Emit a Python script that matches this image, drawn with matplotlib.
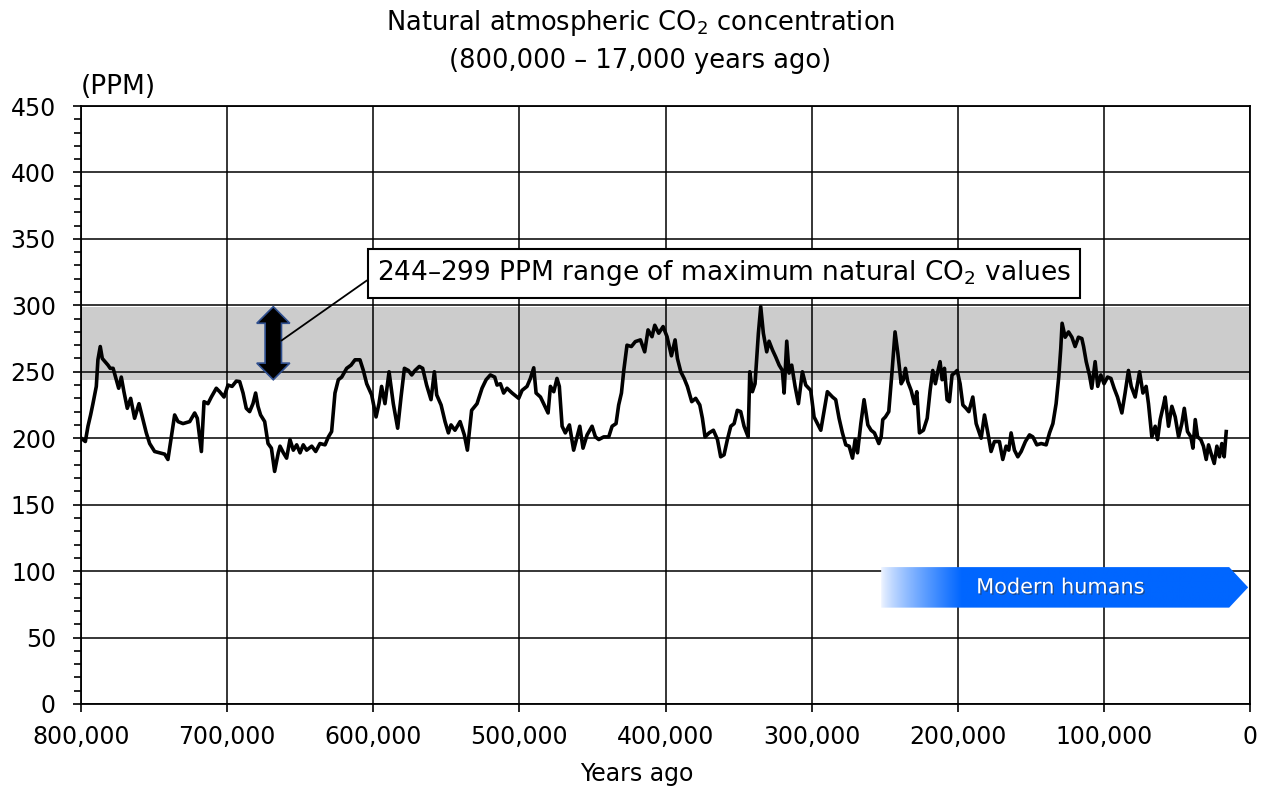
import numpy as np
import matplotlib
matplotlib.use("Agg")
import matplotlib.pyplot as plt
from matplotlib.patches import Polygon
from matplotlib.ticker import MultipleLocator, FuncFormatter
import matplotlib.patheffects as pe

# CO2 record (thousands of years ago, ppm)
kyr_ago = [
    799.8, 797.0, 795.2, 793.4, 791.8, 789.5, 788.4, 786.8, 785.4, 783.8,
    781.5, 780.0, 778.0, 775.8, 774.2, 772.4, 770.6, 768.3, 766.0, 763.3,
    760.3, 757.6, 755.3, 753.0, 749.6, 746.2, 742.7, 740.5, 738.2, 735.9,
    733.6, 730.2, 725.6, 722.2, 720.4, 717.6, 715.8, 713.1, 710.8, 707.4,
    705.1, 702.1, 699.4, 696.6, 693.7, 691.4, 689.1, 686.9, 684.6, 682.3,
    680.5, 678.9, 677.1, 674.3, 672.0, 669.7, 667.5,
    665.0, 663.8, 661.5, 659.3, 657.0, 654.7, 652.4, 650.1, 647.9, 645.6,
    642.1, 639.4, 636.5, 633.0, 630.7, 628.5, 626.2, 623.9, 621.6, 618.2,
    615.2, 612.5, 609.1, 606.8, 604.5, 601.1, 598.1, 596.1, 594.3, 592.0,
    589.2, 586.3, 583.3, 581.0, 578.7, 576.0, 573.7, 571.4, 568.5, 566.2,
    563.5, 560.5, 558.2, 556.6, 553.6, 550.9, 548.6, 546.8, 544.1, 540.6,
    537.7, 535.6, 532.7,
    529.0, 525.6, 522.8, 519.9, 516.9, 515.3, 513.0, 510.8, 508.5, 505.0,
    500.5, 498.2, 494.8, 492.5, 490.2, 488.6, 485.6, 483.4, 480.4, 478.8,
    476.5, 474.3, 472.7, 470.8, 468.6, 465.8, 462.9, 460.6, 458.7, 456.5,
    453.7, 450.3, 448.0, 445.7, 442.3, 438.9, 436.6, 433.9, 432.1, 430.2,
    428.6, 426.4, 423.4, 420.7, 417.2, 414.3, 412.0, 409.3, 407.4, 404.7,
    401.7, 399.0, 396.0,
    393.5, 391.9, 389.6, 387.3, 385.1, 382.1, 379.4, 376.6, 374.8, 373.0,
    370.2, 367.3, 364.5, 362.3, 360.0, 357.7, 355.4, 353.1, 350.9, 348.6,
    346.3, 343.5, 342.4, 340.6, 338.8, 336.5, 334.9, 333.1, 330.8, 329.2,
    326.9, 324.6, 322.3, 320.1, 318.9, 317.1, 315.5, 313.7, 311.4, 309.1,
    306.4, 304.1, 300.7, 298.4, 296.1, 293.8, 291.5, 289.3, 285.8, 283.6,
    281.3, 279.0, 276.7, 274.4, 272.1, 270.3, 268.7, 266.4, 264.2,
    261.6, 259.4, 257.1, 254.1, 252.5, 251.4, 249.6, 247.3, 245.0, 243.0,
    241.1, 238.8, 237.3, 235.9, 234.3, 232.0, 229.7, 228.1, 226.3, 223.6,
    221.0, 219.0, 217.2, 215.4, 213.8, 212.2, 210.8, 209.2, 207.4, 205.8,
    204.0, 202.3, 200.5, 198.5, 196.6, 194.4, 192.5, 189.8, 187.5, 184.1,
    181.8, 179.5, 177.3, 175.0, 171.6, 169.3, 167.0, 165.2, 163.6, 161.3,
    159.0, 156.7, 153.8, 151.0, 148.7, 146.0, 143.0, 139.6, 137.3, 135.0,
    132.8, 131.0, 129.6, 128.7,
    126.6, 124.3, 122.0, 119.8, 117.5, 115.2, 114.0, 112.2, 110.0, 108.4,
    106.1, 104.3, 102.2, 100.0, 97.6, 95.3, 93.1, 90.8, 87.8, 85.6,
    83.3, 81.4, 78.7, 75.7, 73.4, 71.2, 69.6, 67.3, 65.0, 63.4,
    61.6, 59.3, 58.2, 55.9, 53.6, 51.3, 49.0, 46.8, 45.1, 42.9,
    40.6, 39.2, 37.6, 36.0, 33.8, 32.0, 30.1, 28.5, 26.9, 24.6,
    22.8, 21.0, 19.4, 17.8, 16.4,
]
co2_ppm = [
    200, 197.5, 209, 217.5, 226, 239, 259, 269, 260, 258,
    255, 252.6, 252.6, 244, 237.6, 246, 235, 222.5, 230, 215,
    226, 214, 204, 196, 190, 189, 188, 184, 201, 217.5,
    212.5, 211, 212.5, 219, 215, 190, 227.5, 226, 231, 237.6,
    235, 231, 240, 239, 243, 242.6, 234, 222.5, 220, 226,
    234, 224, 217.5, 212.5, 196, 192.5, 175,
    189, 194, 189, 185, 199, 191, 195, 189, 195, 191,
    194, 190, 196, 195, 201, 205, 234, 244, 246, 252.6,
    255, 259, 259, 251, 241, 232.6, 216, 226, 239, 226,
    250, 226, 207.5, 231, 252.6, 251, 247.6, 251, 254, 252.6,
    240, 229, 250, 232.6, 225, 212.5, 204, 210, 206, 212.5,
    202.5, 191, 221,
    226, 237.6, 244, 247.6, 246, 240, 241, 234, 237.6, 234,
    230, 236, 239, 245, 253, 234, 231, 226, 219, 239,
    235, 245, 239, 209, 204, 210, 191, 201, 209, 192.5,
    202.5, 209, 201, 199, 201, 201, 209, 211, 225, 234,
    251, 270, 269, 272.7, 274, 265, 281.5, 276.4, 285, 279,
    284, 276.4, 262,
    274, 260, 250, 245, 239, 227.5, 230, 225, 215, 201,
    204, 206, 199, 186, 187.5, 199, 209, 211, 221, 220,
    209, 201, 250, 235, 241, 279, 299, 279, 265, 273,
    266.5, 261, 255, 251, 234, 273, 249, 255, 239, 226,
    250, 240, 236, 216, 211, 206, 221, 235, 231, 229,
    215, 204, 195, 194, 185, 199, 189, 211, 229,
    210, 206, 204, 196, 201, 214, 216, 220, 251, 280,
    264, 241, 244, 252.6, 242.6, 236, 226, 235, 204, 206,
    215, 236, 251, 241, 250, 257.6, 244, 252.6, 229, 227.5,
    247.6, 249, 251, 241, 225, 222.5, 220, 231, 211, 200,
    217.5, 204, 190, 197.5, 197.5, 184, 194, 191, 204, 191,
    186, 190, 197.5, 202.5, 201, 195, 196, 195, 204, 211,
    226, 246, 267.7, 286.5,
    276, 280, 276, 269, 276, 275, 269, 257.6, 247.6, 237.6,
    257.6, 239, 247.6, 241, 246, 245, 237.6, 231, 219, 234,
    251, 239, 231, 250, 234, 239, 226, 201, 209, 199,
    214, 225, 231, 209, 224, 216, 201, 211, 222.5, 205,
    201, 192.5, 214, 201, 199, 194, 184, 195, 189, 181,
    194, 186, 196, 186, 205,
]

band_low, band_high = 244, 299
humans_start_kyr = 252.5
band_label = "244\u2013299 PPM range of maximum natural CO$_2$ values"

years = np.array(kyr_ago) * 1000
co2 = np.array(co2_ppm)

plt.rcParams['font.family'] = ['DejaVu Sans']

fig = plt.figure(figsize=(12.65, 7.87), dpi=100)
ax = fig.add_axes([0.064, 0.1055, 0.9243, 0.7598])

ax.axhspan(band_low, band_high, color='#cccccc', zorder=0.2, lw=0)
ax.plot(years, co2, color='black', lw=2.6, zorder=3, solid_joinstyle='round')

ax.set_xlim(800000, 0)
ax.set_ylim(0, 450)
ax.xaxis.set_major_locator(MultipleLocator(100000))
ax.yaxis.set_major_locator(MultipleLocator(50))
ax.yaxis.set_minor_locator(MultipleLocator(10))
ax.xaxis.set_major_formatter(FuncFormatter(lambda v, p: f"{int(round(v)):,}"))
ax.set_axisbelow(True)
ax.grid(True, which='major', color='black', lw=1.1)
for s in ax.spines.values():
    s.set_color('black')
    s.set_linewidth(1.3)
ax.tick_params(axis='both', which='major', direction='out', length=6, width=1.2,
               labelsize=17)
ax.tick_params(axis='y', which='major', pad=12)
ax.tick_params(axis='x', which='major', pad=9)
ax.tick_params(axis='y', which='minor', direction='out', length=5, width=1.2)

# double-headed block arrow marking the band
ax_x = 668400
hw_head, hw_shaft, head_h = 11300, 5600, 12.5
arrow_pts = [
    (ax_x, band_high), (ax_x - hw_head, band_high - head_h),
    (ax_x - hw_shaft, band_high - head_h), (ax_x - hw_shaft, band_low + head_h),
    (ax_x - hw_head, band_low + head_h), (ax_x, band_low),
    (ax_x + hw_head, band_low + head_h), (ax_x + hw_shaft, band_low + head_h),
    (ax_x + hw_shaft, band_high - head_h), (ax_x + hw_head, band_high - head_h),
]
ax.add_patch(Polygon(arrow_pts, closed=True, facecolor='black',
                     edgecolor='#2f4f8f', lw=1.2, zorder=4))

ax.annotate(band_label, xy=(ax_x - hw_shaft, (band_low + band_high) / 2 + 2),
            xytext=(360000, 324), textcoords='data', ha='center', va='center',
            fontsize=19, zorder=6,
            bbox=dict(boxstyle='square,pad=0.35', fc='white', ec='black', lw=1.5),
            arrowprops=dict(arrowstyle='-', color='black', lw=1.3,
                            relpos=(0, 0.5), shrinkA=0, shrinkB=0))

# "Modern humans" gradient arrow
x0 = humans_start_kyr * 1000
x_pt, x_tip = 14400, 1400
y_lo, y_hi = 72.5, 103
shape = Polygon([(x0, y_lo), (x0, y_hi), (x_pt, y_hi), (x_tip, (y_lo + y_hi) / 2),
                 (x_pt, y_lo)], closed=True, fc='none', ec='none',
                transform=ax.transData)
ax.add_patch(shape)
n = 400
frac = np.clip(np.linspace(0, 1, n) / 0.22, 0, 1) ** 0.8
blue = np.array([0.0, 0.4, 1.0])
white = np.array([0.94, 0.96, 1.0])
grad = (white[None, :] * (1 - frac[:, None]) + blue[None, :] * frac[:, None])[None, :, :]
im = ax.imshow(grad, extent=(x0, x_tip, y_lo, y_hi), aspect='auto', zorder=5,
               interpolation='bilinear')
im.set_clip_path(shape)
ax.text(130000, (y_lo + y_hi) / 2, 'Modern humans', color='white', fontsize=15,
        ha='center', va='center', zorder=6,
        path_effects=[pe.withSimplePatchShadow(offset=(1, -1), shadow_rgbFace='#333333',
                                               alpha=0.5)])
ax.set_xlim(800000, 0)
ax.set_ylim(0, 450)

ax.text(0.0, 1.01, '(PPM)', transform=ax.transAxes, fontsize=19,
        ha='left', va='bottom')
fig.text(0.506, 0.971, 'Natural atmospheric CO$_2$ concentration',
         fontsize=18.5, ha='center', va='center')
fig.text(0.506, 0.923, '(800,000 \u2013 17,000 years ago)',
         fontsize=18.5, ha='center', va='center')
fig.text(0.503, 0.017, 'Years ago', fontsize=17, ha='center', va='center')

fig.savefig('out.png', dpi=100)
